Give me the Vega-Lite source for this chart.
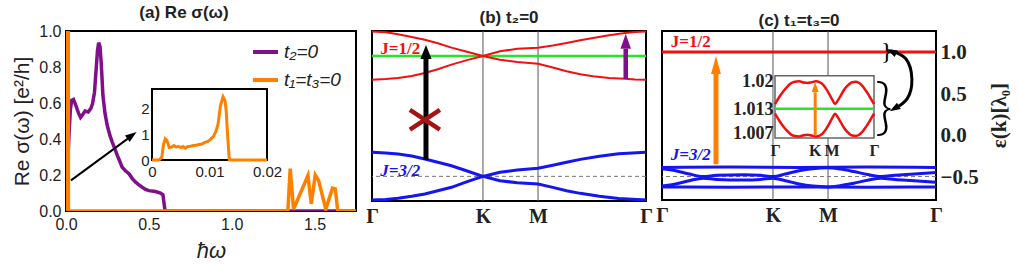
{
"$schema": "https://vega.github.io/schema/vega-lite/v6.json",
"background": "white",
"padding": {"left": 10, "top": 3, "right": 5, "bottom": 5},
"spacing": 16,
"bounds": "flush",
"config": {
  "view": {"stroke": "black", "strokeWidth": 2},
  "axis": {"grid": false, "domain": false, "ticks": false, "labelFlush": false, "labelOverlap": false, "labelColor": "#222", "titleColor": "#222", "tickCount": 12},
  "title": {"font": "Liberation Sans", "fontSize": 17, "fontWeight": "bold", "color": "#222", "offset": 1, "anchor": "middle", "frame": "group"}
},
"hconcat": [
{
  "width": 290, "height": 180,
  "title": {"text": "(a) Re σ(ω)", "dx": -27},
  "layer": [
    {"layer": [
      {"data": {"values": [
        {"x":0.012,"y":0.30,"s":"t₂=0"},{"x":0.018,"y":0.42,"s":"t₂=0"},{"x":0.026,"y":0.56,"s":"t₂=0"},{"x":0.034,"y":0.615,"s":"t₂=0"},{"x":0.045,"y":0.62,"s":"t₂=0"},{"x":0.06,"y":0.585,"s":"t₂=0"},{"x":0.075,"y":0.545,"s":"t₂=0"},{"x":0.088,"y":0.52,"s":"t₂=0"},{"x":0.1,"y":0.535,"s":"t₂=0"},{"x":0.115,"y":0.555,"s":"t₂=0"},{"x":0.134,"y":0.55,"s":"t₂=0"},{"x":0.15,"y":0.57,"s":"t₂=0"},{"x":0.16,"y":0.595,"s":"t₂=0"},{"x":0.172,"y":0.66,"s":"t₂=0"},{"x":0.182,"y":0.79,"s":"t₂=0"},{"x":0.19,"y":0.89,"s":"t₂=0"},{"x":0.197,"y":0.935,"s":"t₂=0"},{"x":0.205,"y":0.915,"s":"t₂=0"},{"x":0.212,"y":0.83,"s":"t₂=0"},{"x":0.223,"y":0.64,"s":"t₂=0"},{"x":0.235,"y":0.545,"s":"t₂=0"},{"x":0.249,"y":0.475,"s":"t₂=0"},{"x":0.265,"y":0.42,"s":"t₂=0"},{"x":0.279,"y":0.383,"s":"t₂=0"},{"x":0.295,"y":0.345,"s":"t₂=0"},{"x":0.309,"y":0.31,"s":"t₂=0"},{"x":0.325,"y":0.275,"s":"t₂=0"},{"x":0.339,"y":0.243,"s":"t₂=0"},{"x":0.36,"y":0.222,"s":"t₂=0"},{"x":0.38,"y":0.207,"s":"t₂=0"},{"x":0.4,"y":0.18,"s":"t₂=0"},{"x":0.42,"y":0.16,"s":"t₂=0"},{"x":0.44,"y":0.145,"s":"t₂=0"},{"x":0.46,"y":0.132,"s":"t₂=0"},{"x":0.48,"y":0.12,"s":"t₂=0"},{"x":0.5,"y":0.113,"s":"t₂=0"},{"x":0.54,"y":0.108,"s":"t₂=0"},{"x":0.57,"y":0.1,"s":"t₂=0"},{"x":0.585,"y":0.09,"s":"t₂=0"},{"x":0.592,"y":0.04,"s":"t₂=0"},{"x":0.598,"y":0.0,"s":"t₂=0"},{"x":1.0,"y":0.0,"s":"t₂=0"},{"x":1.75,"y":0.0,"s":"t₂=0"},
        {"x":0.0,"y":0.0,"s":"t₁=t₃=0"},{"x":0.002,"y":0.85,"s":"t₁=t₃=0"},{"x":0.005,"y":0.5,"s":"t₁=t₃=0"},{"x":0.01,"y":0.8,"s":"t₁=t₃=0"},{"x":0.0122,"y":2.45,"s":"t₁=t₃=0"},{"x":0.0145,"y":0.0,"s":"t₁=t₃=0"},{"x":0.5,"y":0.0,"s":"t₁=t₃=0"},{"x":1.0,"y":0.0,"s":"t₁=t₃=0"},{"x":1.339,"y":0.0,"s":"t₁=t₃=0"},{"x":1.353,"y":0.235,"s":"t₁=t₃=0"},{"x":1.373,"y":0.01,"s":"t₁=t₃=0"},{"x":1.46,"y":0.197,"s":"t₁=t₃=0"},{"x":1.48,"y":0.04,"s":"t₁=t₃=0"},{"x":1.504,"y":0.2,"s":"t₁=t₃=0"},{"x":1.524,"y":0.17,"s":"t₁=t₃=0"},{"x":1.568,"y":0.01,"s":"t₁=t₃=0"},{"x":1.608,"y":0.127,"s":"t₁=t₃=0"},{"x":1.625,"y":0.123,"s":"t₁=t₃=0"},{"x":1.64,"y":0.0,"s":"t₁=t₃=0"},{"x":1.75,"y":0.0,"s":"t₁=t₃=0"}
      ]},
       "mark": {"type": "line", "strokeWidth": 3.5, "clip": true},
       "encoding": {
         "x": {"field": "x", "type": "quantitative", "scale": {"domain": [0, 1.75], "nice": false, "zero": false},
               "axis": {"values": [0, 0.5, 1, 1.5], "tickCount": 10, "format": ".1f", "labelOverlap": false, "labelFont": "Liberation Sans", "labelFontSize": 16, "labelPadding": 5, "title": "ħω", "titleFont": "Liberation Sans", "titleFontStyle": "italic", "titleFontWeight": "normal", "titleFontSize": 22, "titlePadding": 8}},
         "y": {"field": "y", "type": "quantitative", "scale": {"domain": [0, 1], "nice": false},
               "axis": {"values": [0, 0.2, 0.4, 0.6, 0.8, 1.0], "tickCount": 10, "format": ".1f", "labelOverlap": false, "labelFont": "Liberation Sans", "labelFontSize": 16, "labelPadding": 5, "title": "Re σ(ω) [e²/h]", "titleFont": "Liberation Sans", "titleFontWeight": "normal", "titleFontSize": 21, "titlePadding": 6}},
         "color": {"field": "s", "type": "nominal", "scale": {"domain": ["t₂=0", "t₁=t₃=0"], "range": ["#80108a", "#ff8000"]},
                   "legend": {"orient": "none", "legendX": 185, "legendY": 9, "padding": 0, "title": null, "symbolType": "stroke", "symbolStrokeWidth": 4, "symbolSize": 625, "clipHeight": 24, "labelFont": "Liberation Sans", "labelFontStyle": "italic", "labelFontSize": 19, "labelColor": "#222", "rowPadding": 4, "labelOffset": 4}}
       }},
      {"data": {"values": [{"x": 0.03, "y": 0.17, "x2": 0.4, "y2": 0.42}]},
       "mark": {"type": "rule", "strokeWidth": 2, "color": "black"},
       "encoding": {"x": {"field": "x", "type": "quantitative"}, "y": {"field": "y", "type": "quantitative"}, "x2": {"field": "x2"}, "y2": {"field": "y2"}}},
      {"data": {"values": [{"x": 0.398, "y": 0.42}]},
       "mark": {"type": "point", "shape": "M-0.7,1L0.7,1L0,-1Z", "size": 130, "angle": 54, "filled": true, "color": "black", "opacity": 1, "strokeWidth": 0},
       "encoding": {"x": {"field": "x", "type": "quantitative"}, "y": {"field": "y", "type": "quantitative"}}}
    ]},
    {"layer": [
      {"data": {"values": [{"x": 0, "x2": 0.02, "y": 0, "y2": 2.75}]},
       "mark": {"type": "rect", "fill": "white", "stroke": "black", "strokeWidth": 2},
       "encoding": {
         "x": {"field": "x", "type": "quantitative", "scale": {"domain": [0, 0.02], "range": [86, 201], "nice": false, "zero": false},
               "axis": {"orient": "bottom", "offset": -51, "values": [0, 0.01, 0.02], "tickCount": 10, "labelOverlap": false, "labelExpr": "datum.value == 0 ? '0' : format(datum.value, '.2f')", "labelFont": "Liberation Sans", "labelFontSize": 15, "labelPadding": 4, "title": null, "zindex": 1}},
         "y": {"field": "y", "type": "quantitative", "scale": {"domain": [0, 2.75], "range": [129, 58], "nice": false},
               "axis": {"orient": "left", "offset": -86, "values": [0, 1, 2], "tickCount": 10, "format": "d", "labelOverlap": false, "labelFont": "Liberation Sans", "labelFontSize": 15, "labelPadding": 3, "title": null, "zindex": 1}},
         "x2": {"field": "x2"}, "y2": {"field": "y2"}
       }},
      {"data": {"values": [
        {"x":0,"y":0},{"x":0.0012,"y":0},{"x":0.0017,"y":0.1},{"x":0.002,"y":0.6},{"x":0.0023,"y":0.82},{"x":0.0026,"y":0.75},{"x":0.003,"y":0.48},{"x":0.0034,"y":0.5},{"x":0.0038,"y":0.56},{"x":0.0042,"y":0.5},{"x":0.0046,"y":0.53},{"x":0.005,"y":0.48},{"x":0.0054,"y":0.52},{"x":0.0058,"y":0.46},{"x":0.0062,"y":0.52},{"x":0.0067,"y":0.53},{"x":0.0072,"y":0.56},{"x":0.0077,"y":0.57},{"x":0.0082,"y":0.6},{"x":0.0087,"y":0.62},{"x":0.0092,"y":0.68},{"x":0.0097,"y":0.72},{"x":0.0102,"y":0.8},{"x":0.0107,"y":0.92},{"x":0.0111,"y":1.1},{"x":0.0115,"y":1.4},{"x":0.0119,"y":2.1},{"x":0.01235,"y":2.45},{"x":0.0127,"y":2.3},{"x":0.0129,"y":1.9},{"x":0.0132,"y":0.8},{"x":0.01345,"y":0},{"x":0.02,"y":0}
      ]},
       "mark": {"type": "line", "strokeWidth": 3, "color": "#ff8000"},
       "encoding": {"x": {"field": "x", "type": "quantitative"}, "y": {"field": "y", "type": "quantitative"}}}
    ]}
  ],
  "resolve": {"scale": {"x": "independent", "y": "independent"}}
},
{
  "width": 274, "height": 170,
  "title": {"text": "(b) t₂=0"},
  "layer": [
    {"data": {"values": [{"k": 0.405}, {"k": 0.606}]},
     "mark": {"type": "rule", "color": "#555", "strokeWidth": 1},
     "encoding": {"x": {"field": "k", "type": "quantitative", "scale": {"domain": [0, 1], "nice": false},
       "axis": {"values": [0, 0.405, 0.606, 1], "tickCount": 10, "labelOverlap": false, "labelExpr": "datum.value < 0.01 || datum.value > 0.99 ? 'Γ' : datum.value < 0.5 ? 'K' : 'M'", "labelFont": "Liberation Serif", "labelFontWeight": "bold", "labelFontSize": 20, "labelPadding": 5, "title": null}}}},
    {"data": {"values": [{"v": -0.71}]},
     "mark": {"type": "rule", "color": "#777", "strokeWidth": 1, "strokeDash": [4, 3]},
     "encoding": {"y": {"field": "v", "type": "quantitative", "scale": {"domain": [-1, 1], "nice": false}, "axis": null}}},
    {"data": {"values": [{"v": 0.706}]},
     "mark": {"type": "rule", "color": "#2ee02e", "strokeWidth": 2.5},
     "encoding": {"y": {"field": "v", "type": "quantitative", "axis": null}}},
    {"data": {"values": [
      {"k":0,"v":0.994,"b":"r1"},{"k":0.05,"v":0.985,"b":"r1"},{"k":0.095,"v":0.961,"b":"r1"},{"k":0.145,"v":0.93,"b":"r1"},{"k":0.193,"v":0.898,"b":"r1"},{"k":0.24,"v":0.855,"b":"r1"},{"k":0.29,"v":0.804,"b":"r1"},{"k":0.35,"v":0.753,"b":"r1"},{"k":0.405,"v":0.706,"b":"r1"},{"k":0.467,"v":0.761,"b":"r1"},{"k":0.53,"v":0.79,"b":"r1"},{"k":0.606,"v":0.804,"b":"r1"},{"k":0.66,"v":0.83,"b":"r1"},{"k":0.71,"v":0.859,"b":"r1"},{"k":0.76,"v":0.89,"b":"r1"},{"k":0.807,"v":0.918,"b":"r1"},{"k":0.865,"v":0.95,"b":"r1"},{"k":0.923,"v":0.976,"b":"r1"},{"k":0.96,"v":0.988,"b":"r1"},{"k":1,"v":0.994,"b":"r1"},
      {"k":0,"v":0.427,"b":"r2"},{"k":0.05,"v":0.435,"b":"r2"},{"k":0.095,"v":0.447,"b":"r2"},{"k":0.145,"v":0.47,"b":"r2"},{"k":0.193,"v":0.506,"b":"r2"},{"k":0.24,"v":0.55,"b":"r2"},{"k":0.29,"v":0.604,"b":"r2"},{"k":0.35,"v":0.66,"b":"r2"},{"k":0.405,"v":0.706,"b":"r2"},{"k":0.467,"v":0.662,"b":"r2"},{"k":0.53,"v":0.635,"b":"r2"},{"k":0.606,"v":0.615,"b":"r2"},{"k":0.66,"v":0.57,"b":"r2"},{"k":0.71,"v":0.526,"b":"r2"},{"k":0.76,"v":0.49,"b":"r2"},{"k":0.807,"v":0.467,"b":"r2"},{"k":0.865,"v":0.448,"b":"r2"},{"k":0.923,"v":0.439,"b":"r2"},{"k":0.96,"v":0.43,"b":"r2"},{"k":1,"v":0.427,"b":"r2"}
    ]},
     "mark": {"type": "line", "color": "#f01010", "strokeWidth": 2},
     "encoding": {"x": {"field": "k", "type": "quantitative"}, "y": {"field": "v", "type": "quantitative", "axis": null}, "detail": {"field": "b"}}},
    {"data": {"values": [
      {"k":0,"v":-0.427,"b":"b1"},{"k":0.05,"v":-0.435,"b":"b1"},{"k":0.095,"v":-0.447,"b":"b1"},{"k":0.145,"v":-0.47,"b":"b1"},{"k":0.193,"v":-0.506,"b":"b1"},{"k":0.24,"v":-0.545,"b":"b1"},{"k":0.29,"v":-0.585,"b":"b1"},{"k":0.35,"v":-0.65,"b":"b1"},{"k":0.405,"v":-0.71,"b":"b1"},{"k":0.467,"v":-0.662,"b":"b1"},{"k":0.53,"v":-0.635,"b":"b1"},{"k":0.606,"v":-0.615,"b":"b1"},{"k":0.66,"v":-0.58,"b":"b1"},{"k":0.71,"v":-0.545,"b":"b1"},{"k":0.76,"v":-0.51,"b":"b1"},{"k":0.83,"v":-0.474,"b":"b1"},{"k":0.9,"v":-0.445,"b":"b1"},{"k":1,"v":-0.427,"b":"b1"},
      {"k":0,"v":-0.988,"b":"b2"},{"k":0.05,"v":-0.982,"b":"b2"},{"k":0.095,"v":-0.968,"b":"b2"},{"k":0.145,"v":-0.945,"b":"b2"},{"k":0.193,"v":-0.918,"b":"b2"},{"k":0.24,"v":-0.88,"b":"b2"},{"k":0.29,"v":-0.839,"b":"b2"},{"k":0.35,"v":-0.77,"b":"b2"},{"k":0.405,"v":-0.71,"b":"b2"},{"k":0.467,"v":-0.761,"b":"b2"},{"k":0.53,"v":-0.785,"b":"b2"},{"k":0.606,"v":-0.8,"b":"b2"},{"k":0.66,"v":-0.84,"b":"b2"},{"k":0.71,"v":-0.879,"b":"b2"},{"k":0.76,"v":-0.91,"b":"b2"},{"k":0.83,"v":-0.945,"b":"b2"},{"k":0.9,"v":-0.97,"b":"b2"},{"k":1,"v":-0.988,"b":"b2"}
    ]},
     "mark": {"type": "line", "color": "#1515ee", "strokeWidth": 3},
     "encoding": {"x": {"field": "k", "type": "quantitative"}, "y": {"field": "v", "type": "quantitative", "axis": null}, "detail": {"field": "b"}}},
    {"data": {"values": [{"k": 0.197, "v": -0.518, "v2": 0.67}]},
     "mark": {"type": "rule", "color": "black", "strokeWidth": 5},
     "encoding": {"x": {"field": "k", "type": "quantitative"}, "y": {"field": "v", "type": "quantitative", "axis": null}, "y2": {"field": "v2"}}},
    {"data": {"values": [{"k": 0.197, "v": 0.753}]},
     "mark": {"type": "point", "shape": "M-0.8,1L0.8,1L0,-1Z", "size": 196, "filled": true, "color": "black", "opacity": 1, "strokeWidth": 0},
     "encoding": {"x": {"field": "k", "type": "quantitative"}, "y": {"field": "v", "type": "quantitative", "axis": null}}},
    {"data": {"values": [{"k": 0.926, "v": 0.435, "v2": 0.79}]},
     "mark": {"type": "rule", "color": "#80108a", "strokeWidth": 4.5},
     "encoding": {"x": {"field": "k", "type": "quantitative"}, "y": {"field": "v", "type": "quantitative", "axis": null}, "y2": {"field": "v2"}}},
    {"data": {"values": [{"k": 0.926, "v": 0.88}]},
     "mark": {"type": "point", "shape": "M-0.7,1L0.7,1L0,-1Z", "size": 225, "filled": true, "color": "#80108a", "opacity": 1, "strokeWidth": 0},
     "encoding": {"x": {"field": "k", "type": "quantitative"}, "y": {"field": "v", "type": "quantitative", "axis": null}}},
    {"data": {"values": [{"k": 0.193, "v": -0.044}]},
     "mark": {"type": "point", "shape": "M-1,-0.66L1,0.66M-1,0.66L1,-0.66", "size": 900, "filled": false, "stroke": "#a31515", "strokeWidth": 4.5, "opacity": 1},
     "encoding": {"x": {"field": "k", "type": "quantitative"}, "y": {"field": "v", "type": "quantitative", "axis": null}}},
    {"data": {"values": [{"k": 0.03, "v": 0.79, "t": "J=1/2"}]},
     "mark": {"type": "text", "color": "#f01010", "font": "Liberation Serif", "fontWeight": "bold", "fontSize": 17, "align": "left", "baseline": "middle"},
     "encoding": {"x": {"field": "k", "type": "quantitative"}, "y": {"field": "v", "type": "quantitative", "axis": null}, "text": {"field": "t"}}},
    {"data": {"values": [{"k": 0.03, "v": -0.643, "t": "J=3/2"}]},
     "mark": {"type": "text", "color": "#1515ee", "font": "Liberation Serif", "fontWeight": "bold", "fontStyle": "italic", "fontSize": 17, "align": "left", "baseline": "middle"},
     "encoding": {"x": {"field": "k", "type": "quantitative"}, "y": {"field": "v", "type": "quantitative", "axis": null}, "text": {"field": "t"}}}
  ]
},
{
  "width": 274, "height": 169,
  "title": {"text": "(c) t₁=t₃=0"},
  "layer": [
    {"layer": [
      {"data": {"values": [{"k": 0.405}, {"k": 0.606}]},
       "mark": {"type": "rule", "color": "#555", "strokeWidth": 1},
       "encoding": {"x": {"field": "k", "type": "quantitative", "scale": {"domain": [0, 1], "nice": false},
         "axis": {"values": [0, 0.405, 0.606, 1], "tickCount": 10, "labelOverlap": false, "labelExpr": "datum.value < 0.01 || datum.value > 0.99 ? 'Γ' : datum.value < 0.5 ? 'K' : 'M'", "labelFont": "Liberation Serif", "labelFontWeight": "bold", "labelFontSize": 20, "labelPadding": 5, "title": null}}}},
      {"data": {"values": [{"e": -0.49}]},
       "mark": {"type": "rule", "color": "#777", "strokeWidth": 1, "strokeDash": [4, 3]},
       "encoding": {"y": {"field": "e", "type": "quantitative", "scale": {"domain": [-0.773, 1.265], "nice": false, "zero": false},
         "axis": {"orient": "right", "values": [-0.5, 0, 0.5, 1], "tickCount": 10, "format": ".1f", "labelOverlap": false, "labelFont": "Liberation Serif", "labelFontWeight": "bold", "labelFontSize": 21, "labelPadding": 4, "title": "ε(k)[λ₀]", "titleFont": "Liberation Serif", "titleFontWeight": "bold", "titleFontSize": 21, "titleAngle": 270, "titleX": 63, "titleY": 84, "titleAlign": "center", "titleBaseline": "middle"}}}},
      {"data": {"values": [
        {"k":0,"e":-0.38,"b":"c1"},{"k":0.25,"e":-0.376,"b":"c1"},{"k":0.5,"e":-0.38,"b":"c1"},{"k":0.75,"e":-0.376,"b":"c1"},{"k":1,"e":-0.38,"b":"c1"},
        {"k":0,"e":-0.615,"b":"c4"},{"k":0.25,"e":-0.619,"b":"c4"},{"k":0.5,"e":-0.615,"b":"c4"},{"k":0.75,"e":-0.619,"b":"c4"},{"k":1,"e":-0.615,"b":"c4"},
        {"k":0,"e":-0.395,"b":"c2"},{"k":0.05,"e":-0.42,"b":"c2"},{"k":0.1,"e":-0.46,"b":"c2"},{"k":0.15,"e":-0.49,"b":"c2"},{"k":0.2,"e":-0.475,"b":"c2"},{"k":0.3,"e":-0.468,"b":"c2"},{"k":0.36,"e":-0.475,"b":"c2"},{"k":0.405,"e":-0.49,"b":"c2"},{"k":0.45,"e":-0.46,"b":"c2"},{"k":0.5,"e":-0.42,"b":"c2"},{"k":0.55,"e":-0.395,"b":"c2"},{"k":0.606,"e":-0.385,"b":"c2"},{"k":0.65,"e":-0.4,"b":"c2"},{"k":0.7,"e":-0.43,"b":"c2"},{"k":0.75,"e":-0.465,"b":"c2"},{"k":0.8,"e":-0.49,"b":"c2"},{"k":0.85,"e":-0.475,"b":"c2"},{"k":0.92,"e":-0.46,"b":"c2"},{"k":1,"e":-0.44,"b":"c2"},
        {"k":0,"e":-0.605,"b":"c3"},{"k":0.05,"e":-0.58,"b":"c3"},{"k":0.1,"e":-0.54,"b":"c3"},{"k":0.15,"e":-0.51,"b":"c3"},{"k":0.2,"e":-0.525,"b":"c3"},{"k":0.3,"e":-0.532,"b":"c3"},{"k":0.36,"e":-0.525,"b":"c3"},{"k":0.405,"e":-0.51,"b":"c3"},{"k":0.45,"e":-0.54,"b":"c3"},{"k":0.5,"e":-0.58,"b":"c3"},{"k":0.55,"e":-0.605,"b":"c3"},{"k":0.606,"e":-0.615,"b":"c3"},{"k":0.65,"e":-0.6,"b":"c3"},{"k":0.7,"e":-0.57,"b":"c3"},{"k":0.75,"e":-0.535,"b":"c3"},{"k":0.8,"e":-0.51,"b":"c3"},{"k":0.85,"e":-0.525,"b":"c3"},{"k":0.92,"e":-0.54,"b":"c3"},{"k":1,"e":-0.56,"b":"c3"}
      ]},
       "mark": {"type": "line", "color": "#1515ee", "strokeWidth": 3, "interpolate": "monotone"},
       "encoding": {"x": {"field": "k", "type": "quantitative"}, "y": {"field": "e", "type": "quantitative"}, "detail": {"field": "b"}}},
      {"data": {"values": [{"e": 1.013}]},
       "mark": {"type": "rule", "color": "#f01010", "strokeWidth": 3},
       "encoding": {"y": {"field": "e", "type": "quantitative"}}},
      {"data": {"values": [{"k": 0.197, "e": -0.342, "e2": 0.75}]},
       "mark": {"type": "rule", "color": "#ff8000", "strokeWidth": 5},
       "encoding": {"x": {"field": "k", "type": "quantitative"}, "y": {"field": "e", "type": "quantitative"}, "y2": {"field": "e2"}}},
      {"data": {"values": [{"k": 0.197, "e": 0.855}]},
       "mark": {"type": "point", "shape": "M-0.55,1L0.55,1L0,-1Z", "size": 324, "filled": true, "color": "#ff8000", "opacity": 1, "strokeWidth": 0},
       "encoding": {"x": {"field": "k", "type": "quantitative"}, "y": {"field": "e", "type": "quantitative"}}},
      {"data": {"values": [{"k": 0.032, "e": 1.129, "t": "J=1/2"}]},
       "mark": {"type": "text", "color": "#f01010", "font": "Liberation Serif", "fontWeight": "bold", "fontSize": 17, "align": "left", "baseline": "middle"},
       "encoding": {"x": {"field": "k", "type": "quantitative"}, "y": {"field": "e", "type": "quantitative"}, "text": {"field": "t"}}},
      {"data": {"values": [{"k": 0.032, "e": -0.23, "t": "J=3/2"}]},
       "mark": {"type": "text", "color": "#1515ee", "font": "Liberation Serif", "fontWeight": "bold", "fontStyle": "italic", "fontSize": 17, "align": "left", "baseline": "middle"},
       "encoding": {"x": {"field": "k", "type": "quantitative"}, "y": {"field": "e", "type": "quantitative"}, "text": {"field": "t"}}},
      {"data": {"values": [{"k": 0.82, "e": 1.015, "t": "}"}]},
       "mark": {"type": "text", "color": "black", "font": "Liberation Serif", "fontSize": 24, "align": "center", "baseline": "middle"},
       "encoding": {"x": {"field": "k", "type": "quantitative"}, "y": {"field": "e", "type": "quantitative"}, "text": {"field": "t"}}},
      {"data": {"values": [{"k": 0.81, "e": 0.33, "t": "}"}]},
       "mark": {"type": "text", "color": "black", "font": "Lato", "fontWeight": 300, "fontSize": 62, "align": "center", "baseline": "middle"},
       "encoding": {"x": {"field": "k", "type": "quantitative"}, "y": {"field": "e", "type": "quantitative"}, "text": {"field": "t"}}},
      {"data": {"values": [{"i": 0, "k": 0.836, "e": 1.024}, {"i": 1, "k": 0.89, "e": 0.93}, {"i": 2, "k": 0.912, "e": 0.686}, {"i": 3, "k": 0.895, "e": 0.45}, {"i": 4, "k": 0.847, "e": 0.325}]},
       "mark": {"type": "line", "color": "black", "strokeWidth": 3, "interpolate": "natural"},
       "encoding": {"x": {"field": "k", "type": "quantitative"}, "y": {"field": "e", "type": "quantitative"}, "order": {"field": "i"}}},
      {"data": {"values": [{"k": 0.838, "e": 1.02}]},
       "mark": {"type": "point", "shape": "M-0.7,1L0.7,1L0,-1Z", "size": 110, "angle": 297, "filled": true, "color": "black", "opacity": 1, "strokeWidth": 0},
       "encoding": {"x": {"field": "k", "type": "quantitative"}, "y": {"field": "e", "type": "quantitative"}}},
      {"data": {"values": [{"k": 0.848, "e": 0.33}]},
       "mark": {"type": "point", "shape": "M-0.7,1L0.7,1L0,-1Z", "size": 110, "angle": 239, "filled": true, "color": "black", "opacity": 1, "strokeWidth": 0},
       "encoding": {"x": {"field": "k", "type": "quantitative"}, "y": {"field": "e", "type": "quantitative"}}}
    ]},
    {"layer": [
      {"data": {"values": [{"k": 0, "k2": 1, "e": 1.006, "e2": 1.0214}]},
       "mark": {"type": "rect", "fill": "white", "stroke": "#666", "strokeWidth": 1.5},
       "encoding": {
         "x": {"field": "k", "type": "quantitative", "scale": {"domain": [0, 1], "range": [113, 212], "nice": false, "zero": false},
               "axis": {"orient": "bottom", "offset": -62, "values": [0, 0.4, 0.57, 1], "tickCount": 10, "labelOverlap": false, "labelExpr": "datum.value < 0.01 || datum.value > 0.99 ? 'Γ' : datum.value < 0.5 ? 'K' : 'M'", "labelFont": "Liberation Serif", "labelFontWeight": "bold", "labelFontSize": 16, "labelPadding": 4, "title": null, "zindex": 1}},
         "y": {"field": "e", "type": "quantitative", "scale": {"domain": [1.006, 1.0214], "range": [107, 44.7], "nice": false, "zero": false},
               "axis": {"orient": "left", "offset": -113, "values": [1.007, 1.013, 1.02], "tickCount": 10, "format": ".3~f", "labelOverlap": false, "labelFont": "Liberation Serif", "labelFontWeight": "bold", "labelFontSize": 18, "labelPadding": 2, "title": null, "zindex": 1}},
         "x2": {"field": "k2"}, "y2": {"field": "e2"}
       }},
      {"data": {"values": [{"k": 0, "k2": 1, "e": 1.0132}]},
       "mark": {"type": "rule", "color": "#2ee02e", "strokeWidth": 2.5},
       "encoding": {"x": {"field": "k", "type": "quantitative"}, "x2": {"field": "k2"}, "y": {"field": "e", "type": "quantitative"}}},
      {"data": {"values": [
        {"k":0,"e":1.0144,"b":"u"},{"k":0.04,"e":1.016,"b":"u"},{"k":0.077,"e":1.0173,"b":"u"},{"k":0.12,"e":1.0186,"b":"u"},{"k":0.16,"e":1.0195,"b":"u"},{"k":0.2,"e":1.0199,"b":"u"},{"k":0.245,"e":1.02,"b":"u"},{"k":0.29,"e":1.0197,"b":"u"},{"k":0.33,"e":1.0196,"b":"u"},{"k":0.37,"e":1.0198,"b":"u"},{"k":0.413,"e":1.02,"b":"u"},{"k":0.45,"e":1.0198,"b":"u"},{"k":0.48,"e":1.0193,"b":"u"},{"k":0.515,"e":1.0182,"b":"u"},{"k":0.547,"e":1.0169,"b":"u"},{"k":0.58,"e":1.0154,"b":"u"},{"k":0.607,"e":1.0144,"b":"u"},{"k":0.635,"e":1.0153,"b":"u"},{"k":0.664,"e":1.0165,"b":"u"},{"k":0.7,"e":1.018,"b":"u"},{"k":0.748,"e":1.0193,"b":"u"},{"k":0.78,"e":1.0198,"b":"u"},{"k":0.815,"e":1.0199,"b":"u"},{"k":0.85,"e":1.0196,"b":"u"},{"k":0.882,"e":1.0189,"b":"u"},{"k":0.915,"e":1.0178,"b":"u"},{"k":0.95,"e":1.0165,"b":"u"},{"k":0.975,"e":1.0154,"b":"u"},{"k":1,"e":1.0144,"b":"u"},
        {"k":0,"e":1.012,"b":"l"},{"k":0.04,"e":1.0104,"b":"l"},{"k":0.077,"e":1.0091,"b":"l"},{"k":0.12,"e":1.0078,"b":"l"},{"k":0.16,"e":1.0069,"b":"l"},{"k":0.2,"e":1.0065,"b":"l"},{"k":0.245,"e":1.0064,"b":"l"},{"k":0.29,"e":1.0067,"b":"l"},{"k":0.33,"e":1.0068,"b":"l"},{"k":0.37,"e":1.0066,"b":"l"},{"k":0.413,"e":1.0064,"b":"l"},{"k":0.45,"e":1.0066,"b":"l"},{"k":0.48,"e":1.0071,"b":"l"},{"k":0.515,"e":1.0082,"b":"l"},{"k":0.547,"e":1.0095,"b":"l"},{"k":0.58,"e":1.011,"b":"l"},{"k":0.607,"e":1.012,"b":"l"},{"k":0.635,"e":1.0111,"b":"l"},{"k":0.664,"e":1.0099,"b":"l"},{"k":0.7,"e":1.0084,"b":"l"},{"k":0.748,"e":1.0071,"b":"l"},{"k":0.78,"e":1.0066,"b":"l"},{"k":0.815,"e":1.0065,"b":"l"},{"k":0.85,"e":1.0068,"b":"l"},{"k":0.882,"e":1.0075,"b":"l"},{"k":0.915,"e":1.0086,"b":"l"},{"k":0.95,"e":1.0099,"b":"l"},{"k":0.975,"e":1.011,"b":"l"},{"k":1,"e":1.012,"b":"l"}
      ]},
       "mark": {"type": "line", "color": "#f01010", "strokeWidth": 2.5, "interpolate": "monotone"},
       "encoding": {"x": {"field": "k", "type": "quantitative"}, "y": {"field": "e", "type": "quantitative"}, "detail": {"field": "b"}}},
      {"data": {"values": [{"k": 0.406, "e": 1.0066, "e2": 1.0173}]},
       "mark": {"type": "rule", "color": "#ff8000", "strokeWidth": 3},
       "encoding": {"x": {"field": "k", "type": "quantitative"}, "y": {"field": "e", "type": "quantitative"}, "y2": {"field": "e2"}}},
      {"data": {"values": [{"k": 0.406, "e": 1.0186}]},
       "mark": {"type": "point", "shape": "M-0.7,1L0.7,1L0,-1Z", "size": 100, "filled": true, "color": "#ff8000", "opacity": 1, "strokeWidth": 0},
       "encoding": {"x": {"field": "k", "type": "quantitative"}, "y": {"field": "e", "type": "quantitative"}}}
    ]}
  ],
  "resolve": {"scale": {"x": "independent", "y": "independent"}}
}
]
}
